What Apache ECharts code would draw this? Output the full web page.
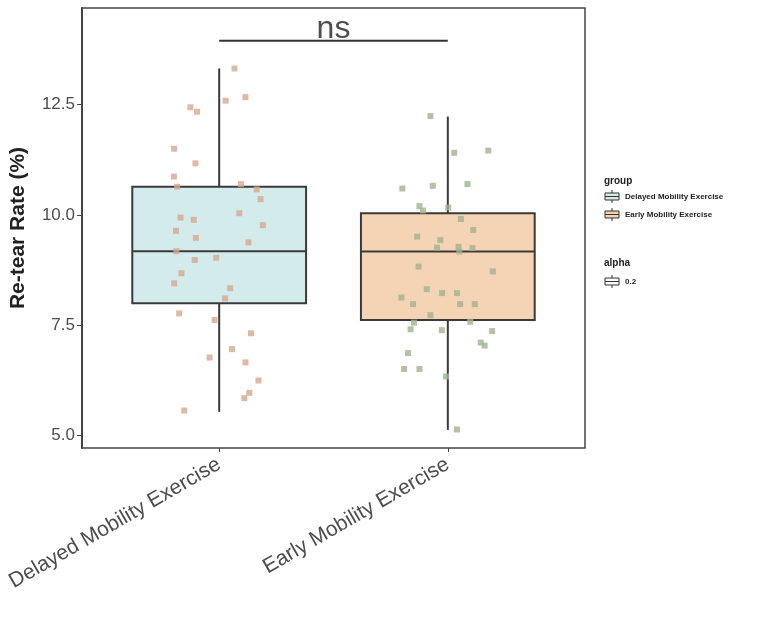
<!DOCTYPE html>
<html>
<head>
<meta charset="utf-8">
<script src="https://cdn.jsdelivr.net/npm/echarts@6/dist/echarts.min.js"></script>
<style>
  html, body { margin: 0; padding: 0; background: #fff; }
  #chart { width: 762px; height: 636px; }
</style>
</head>
<body>
<div id="chart"></div>
<script>
// groups on the x axis (positions 1 and 2)
const groups = ['Delayed Mobility Exercise', 'Early Mobility Exercise']
const groupPos = [1, 2]

// box stats
const boxMin = [5.54, 5.13]
const boxQ1 = [8.00, 7.62]
const boxMedian = [9.18, 9.17]
const boxQ3 = [10.64, 10.04]
const boxMax = [13.32, 12.23]

// jittered raw points
const delayedX = [1.067, 1.028, 1.115, 0.874, 0.903, 0.803, 0.896, 0.802, 0.816, 1.095, 1.164, 1.181,
  0.831, 0.889, 0.811, 1.088, 1.191, 0.898, 1.128, 0.813, 0.893, 0.987, 0.835, 0.803, 1.048, 1.026,
  0.825, 0.980, 1.139, 1.056, 0.958, 1.115, 1.172, 1.132, 1.110, 0.847]
const delayedY = [13.32, 12.59, 12.67, 12.44, 12.34, 11.50, 11.17, 10.87, 10.64, 10.70, 10.58, 10.36,
  9.94, 9.89, 9.64, 10.04, 9.77, 9.48, 9.38, 9.18, 8.98, 9.03, 8.68, 8.45, 8.34, 8.11,
  7.77, 7.62, 7.32, 6.96, 6.77, 6.66, 6.25, 5.97, 5.85, 5.57]
const earlyX = [1.924, 2.028, 2.177, 1.801, 1.934, 2.086, 1.876, 1.891, 2.002, 2.057, 2.111, 1.866,
  1.967, 1.953, 2.047, 2.050, 2.108, 1.872, 2.197, 1.908, 1.975, 2.040, 1.797, 1.848, 2.054, 2.118,
  1.924, 1.852, 1.837, 2.098, 1.974, 2.194, 2.144, 2.161, 1.826, 1.809, 1.876, 1.992, 2.040]
const earlyY = [12.24, 11.41, 11.46, 10.60, 10.66, 10.70, 10.20, 10.10, 10.17, 9.91, 9.66, 9.51,
  9.43, 9.26, 9.28, 9.17, 9.25, 8.83, 8.72, 8.32, 8.23, 8.23, 8.13, 7.98, 7.98, 7.98,
  7.73, 7.56, 7.41, 7.58, 7.39, 7.37, 7.11, 7.04, 6.87, 6.51, 6.51, 6.34, 5.14]

// axis ticks and the significance bar
const yTicks = [5, 7.5, 10, 12.5]
const sigX = [1, 2]
const sigY = 13.95
const sigLabel = 'ns'

const boxFills = ['#d3ebeb', '#f5d4b5']
const pointColors = ['#d6a990', '#a3b28e']

const chart = echarts.init(document.getElementById('chart'))

const renderBox = (params, api) => {
  const x = api.value(0)
  const lo = api.coord([x, api.value(1)])
  const q1 = api.coord([x, api.value(2)])
  const md = api.coord([x, api.value(3)])
  const q3 = api.coord([x, api.value(4)])
  const hi = api.coord([x, api.value(5)])
  const w = api.size([0.76, 0])[0]
  const line = { stroke: '#3a3a3a', lineWidth: 2 }
  return {
    type: 'group',
    children: [
      { type: 'line', shape: { x1: hi[0], y1: hi[1], x2: q3[0], y2: q3[1] }, style: line },
      { type: 'line', shape: { x1: q1[0], y1: q1[1], x2: lo[0], y2: lo[1] }, style: line },
      { type: 'rect', shape: { x: q3[0] - w / 2, y: q3[1], width: w, height: q1[1] - q3[1] },
        style: { fill: boxFills[params.dataIndex], stroke: '#3a3a3a', lineWidth: 2 } },
      { type: 'line', shape: { x1: md[0] - w / 2, y1: md[1], x2: md[0] + w / 2, y2: md[1] }, style: line },
    ],
  }
}

const legendIcon = (x, y, fill) => ({
  type: 'group', x, y,
  children: [
    { type: 'line', shape: { x1: 7, y1: 0, x2: 7, y2: 13 }, style: { stroke: '#333', lineWidth: 1 } },
    { type: 'rect', shape: { x: 0, y: 3, width: 14, height: 7 }, style: { fill, stroke: '#333', lineWidth: 1 } },
    { type: 'line', shape: { x1: 0, y1: 6.5, x2: 14, y2: 6.5 }, style: { stroke: '#333', lineWidth: 1 } },
  ],
})
const legendText = (x, y, text, size) => ({
  type: 'text', x, y,
  style: { text, fontSize: size, fontWeight: 'bold', fill: '#222', fontFamily: 'Liberation Sans', verticalAlign: 'middle' },
})

const option = {
  backgroundColor: '#fff',
  animation: false,
  grid: {
    left: 78, right: 177, top: 8, bottom: 188,
    show: true, borderColor: '#444', borderWidth: 1.5, backgroundColor: 'transparent',
  },
  xAxis: {
    type: 'value',
    min: 0.4,
    max: 2.6,
    splitLine: { show: false },
    axisLine: { show: false },
    axisTick: { show: true, customValues: groupPos, length: 4, lineStyle: { color: '#444' } },
    axisLabel: {
      customValues: groupPos,
      formatter: (v) => groups[Math.round(v) - 1],
      rotate: 30,
      margin: 15,
      fontSize: 21,
      color: '#4d4d4d',
      fontFamily: 'Liberation Sans',
    },
  },
  yAxis: {
    type: 'value',
    min: 4.72,
    max: 14.69,
    name: 'Re-tear Rate (%)',
    nameLocation: 'middle',
    nameGap: 53,
    nameTextStyle: { fontSize: 21, fontWeight: 'bold', color: '#222', fontFamily: 'Liberation Sans' },
    splitLine: { show: false },
    axisLine: { show: true, lineStyle: { color: '#444', width: 2 } },
    axisTick: { show: true, customValues: yTicks, length: 5, lineStyle: { color: '#444' } },
    axisLabel: {
      customValues: yTicks,
      formatter: (v) => v.toFixed(1),
      margin: 7,
      fontSize: 17,
      color: '#4d4d4d',
      fontFamily: 'Liberation Sans',
    },
  },
  series: [
    {
      type: 'custom',
      renderItem: renderBox,
      data: groupPos.map((p, i) => [p, boxMin[i], boxQ1[i], boxMedian[i], boxQ3[i], boxMax[i]]),
      z: 2,
    },
    {
      type: 'scatter',
      symbol: 'rect',
      symbolSize: 6,
      data: delayedX.map((x, i) => [x, delayedY[i]]),
      itemStyle: { color: pointColors[0], opacity: 0.8 },
      z: 3,
    },
    {
      type: 'scatter',
      symbol: 'rect',
      symbolSize: 6,
      data: earlyX.map((x, i) => [x, earlyY[i]]),
      itemStyle: { color: pointColors[1], opacity: 0.8 },
      z: 3,
    },
    {
      type: 'line',
      data: sigX.map((x) => [x, sigY]),
      symbol: 'none',
      lineStyle: { color: '#333', width: 2 },
      z: 4,
    },
    {
      type: 'scatter',
      data: [[(sigX[0] + sigX[1]) / 2, sigY]],
      symbolSize: 0,
      label: {
        show: true,
        position: 'top',
        distance: -5,
        formatter: sigLabel,
        fontSize: 32,
        color: '#222',
        fontFamily: 'Liberation Sans',
      },
      z: 4,
    },
  ],
  graphic: [
    legendText(604, 181, 'group', 10),
    legendIcon(605, 190, boxFills[0]),
    legendText(625, 197, groups[0], 8),
    legendIcon(605, 208, boxFills[1]),
    legendText(625, 215, groups[1], 8),
    legendText(604, 263, 'alpha', 10),
    legendIcon(605, 275, '#fff'),
    legendText(625, 282, '0.2', 8),
  ],
}

chart.setOption(option)
</script>
</body>
</html>
